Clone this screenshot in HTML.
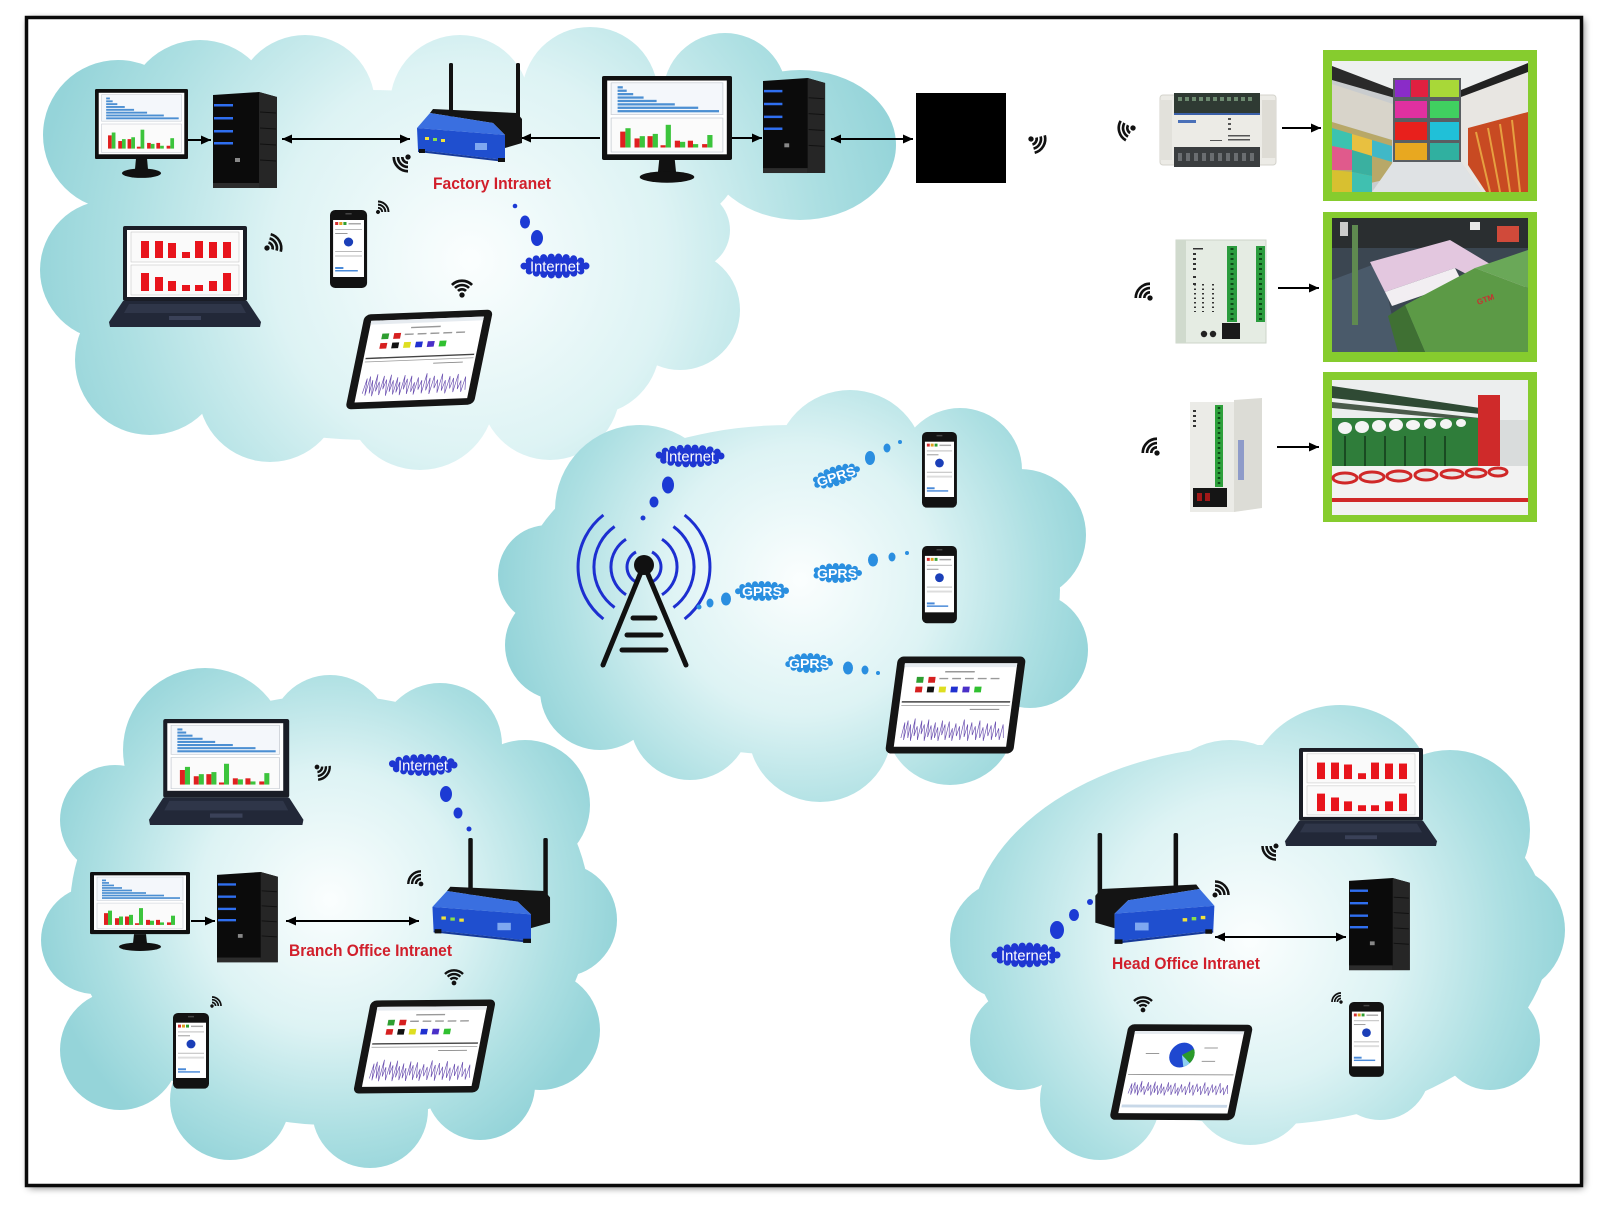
<!DOCTYPE html>
<html><head><meta charset="utf-8"><style>
html,body{margin:0;padding:0;background:#fff;}
svg{display:block;}
</style></head><body>
<svg width="1600" height="1211" viewBox="0 0 1600 1211" xmlns="http://www.w3.org/2000/svg" font-family="'Liberation Sans', Arial, sans-serif">
<defs>
<radialGradient id="gF" gradientUnits="userSpaceOnUse" cx="470" cy="260" r="440">
<stop offset="0" stop-color="#fbfefe"/><stop offset="0.45" stop-color="#ddf3f4"/><stop offset="0.8" stop-color="#acdfe2"/><stop offset="1" stop-color="#95d4d9"/></radialGradient>
<radialGradient id="gM" gradientUnits="userSpaceOnUse" cx="800" cy="580" r="300">
<stop offset="0" stop-color="#fbfefe"/><stop offset="0.45" stop-color="#ddf3f4"/><stop offset="0.8" stop-color="#acdfe2"/><stop offset="1" stop-color="#95d4d9"/></radialGradient>
<radialGradient id="gB" gradientUnits="userSpaceOnUse" cx="330" cy="900" r="290">
<stop offset="0" stop-color="#fbfefe"/><stop offset="0.45" stop-color="#ddf3f4"/><stop offset="0.8" stop-color="#acdfe2"/><stop offset="1" stop-color="#95d4d9"/></radialGradient>
<radialGradient id="gH" gradientUnits="userSpaceOnUse" cx="1250" cy="940" r="320">
<stop offset="0" stop-color="#fbfefe"/><stop offset="0.45" stop-color="#ddf3f4"/><stop offset="0.8" stop-color="#acdfe2"/><stop offset="1" stop-color="#95d4d9"/></radialGradient>
<filter id="blur" x="-5%" y="-5%" width="110%" height="110%"><feGaussianBlur stdDeviation="4"/></filter>
<marker id="ah" viewBox="0 0 10 10" refX="10" refY="5" markerWidth="10" markerHeight="10" markerUnits="userSpaceOnUse" orient="auto-start-reverse"><path d="M0 0.5 L10 5 L0 9.5z" fill="#000"/></marker>

<g id="mscr">
<rect width="92" height="65" fill="#fff"/>
<rect x="3" y="2" width="86" height="28" fill="#f4f7fb" stroke="#c5cad2" stroke-width="0.6"/>
<g fill="#4c8fd2">
<rect x="8" y="5" width="4" height="2"/><rect x="8" y="8" width="7" height="2"/><rect x="8" y="11" width="12" height="2"/><rect x="8" y="14" width="20" height="2"/><rect x="8" y="17" width="30" height="2"/><rect x="8" y="20" width="44" height="2"/><rect x="8" y="23" width="62" height="2"/><rect x="8" y="26" width="78" height="2"/>
</g>
<rect x="3" y="33" width="86" height="30" fill="#fbfbfb" stroke="#c5cad2" stroke-width="0.6"/>
<g fill="#e02020">
<rect x="10" y="45" width="4" height="14"/><rect x="21" y="51" width="4" height="8"/><rect x="31" y="49" width="4" height="10"/><rect x="41" y="57" width="4" height="2"/><rect x="52" y="53" width="4" height="6"/><rect x="62" y="53" width="4" height="6"/><rect x="73" y="56" width="4" height="3"/>
</g>
<g fill="#3cc43c">
<rect x="14" y="42" width="4" height="17"/><rect x="25" y="49" width="4" height="10"/><rect x="35" y="47" width="4" height="12"/><rect x="45" y="39" width="4" height="20"/><rect x="56" y="54" width="4" height="5"/><rect x="66" y="56" width="4" height="3"/><rect x="77" y="48" width="4" height="11"/>
</g>
</g>

<g id="mon">
<rect x="0" y="0" width="100" height="74" rx="1.5" fill="#101010"/>
<use href="#mscr" transform="translate(4,4)"/>
<path d="M44 74 H56 L57 85 H43Z" fill="#111"/>
<ellipse cx="50" cy="89" rx="21" ry="5" fill="#111"/>
</g>

<g id="rscr">
<rect width="116" height="67" fill="#fff"/>
<rect x="4" y="2" width="108" height="30" fill="#fafafa" stroke="#c8c8c8" stroke-width="0.6"/>
<rect x="4" y="35" width="108" height="30" fill="#fafafa" stroke="#c8c8c8" stroke-width="0.6"/>
<g fill="#e8141c">
<rect x="14" y="11" width="8" height="17"/><rect x="28" y="11" width="8" height="17"/><rect x="41" y="13" width="8" height="15"/><rect x="55" y="22" width="8" height="6"/><rect x="68" y="11" width="8" height="17"/><rect x="82" y="12" width="8" height="16"/><rect x="96" y="12" width="8" height="16"/>
<rect x="14" y="43" width="8" height="18"/><rect x="28" y="47" width="8" height="14"/><rect x="41" y="51" width="8" height="10"/><rect x="55" y="55" width="8" height="6"/><rect x="68" y="55" width="8" height="6"/><rect x="82" y="51" width="8" height="10"/><rect x="96" y="43" width="8" height="18"/>
</g>
</g>

<g id="lap">
<rect x="14" y="0" width="124" height="75" rx="2" fill="#1a1d26"/>
<path d="M14 75 H138 L152 96 L151 101 H1 L0 96Z" fill="#222838"/>
<path d="M20 78 H132 L137 87 H15Z" fill="#2f3649"/>
<rect x="60" y="90" width="32" height="4" fill="#3a4158"/>
</g>

<g id="tow">
<path d="M0 3 L46 0 L64 5 L64 96 L0 96Z" fill="#0b0b0b"/>
<path d="M46 0 L64 5 L64 96 L46 96Z" fill="#262626"/>
<g stroke="#111" stroke-width="1"><line x1="47" y1="20" x2="63" y2="21"/><line x1="47" y1="36" x2="63" y2="37"/><line x1="47" y1="52" x2="63" y2="53"/><line x1="47" y1="68" x2="63" y2="69"/></g>
<g fill="#2f6ff0"><rect x="1" y="12" width="19" height="2.5"/><rect x="1" y="25" width="19" height="2.5"/><rect x="1" y="38" width="19" height="2.5"/><rect x="1" y="50" width="19" height="2.5"/></g>
<rect x="22" y="66" width="5" height="4" fill="#888"/>
<rect x="0" y="91" width="46" height="5" fill="#2c2c2c"/>
</g>

<g id="rt">
<rect x="44" y="0" width="4" height="54" rx="1.5" fill="#111"/>
<rect x="111" y="0" width="4" height="62" rx="1.5" fill="#111"/>
<path d="M28 46 L112 50 L117 56 L117 80 L100 85 L100 72 L88 60 L25 50Z" fill="#141414"/>
<path d="M25 50 L88 60 L100 72 L12 65Z" fill="#3a6fe0"/>
<path d="M12 65 L100 72 L100 97 L13 87Z" fill="#1f4fcf"/>
<path d="M13 87 L100 97 L100 99 L13 89Z" fill="#173a99"/>
<rect x="20" y="74" width="4" height="3" fill="#f2e23a"/><rect x="28" y="75" width="4" height="3" fill="#8ae04a"/><rect x="36" y="76" width="4" height="3" fill="#f2e23a"/>
<rect x="70" y="80" width="12" height="7" fill="#7fa8f0"/>
<rect x="14" y="86" width="6" height="4" fill="#111"/><rect x="93" y="95" width="7" height="4" fill="#111"/>
</g>

<g id="ph">
<rect x="0" y="0" width="36" height="78" rx="5" fill="#121212"/>
<rect x="3" y="10" width="30" height="57" fill="#fff"/>
<rect x="5" y="12" width="3" height="3" fill="#d63030"/><rect x="9" y="12" width="3" height="3" fill="#e0a020"/><rect x="13" y="12" width="3" height="3" fill="#30a030"/><rect x="18" y="13" width="12" height="1.5" fill="#aaa"/>
<rect x="5" y="19" width="26" height="1" fill="#bbb"/>
<rect x="5" y="23" width="12" height="1" fill="#999"/>
<circle cx="18" cy="32" r="4.5" fill="#1b3fb8"/>
<rect x="5" y="41" width="26" height="1" fill="#bbb"/>
<rect x="5" y="45" width="26" height="2" fill="#ddd"/>
<rect x="5" y="57" width="8" height="2" fill="#4a8ad8"/>
<rect x="5" y="60" width="22" height="1.5" fill="#4a8ad8"/>
<rect x="15" y="3" width="6" height="1.5" fill="#444"/>
</g>

<path id="noise" fill="none" stroke="#6a4fb0" stroke-width="0.7" d="M14 84 L16 68 L17 86 L19 66 L21 84 L22 70 L24 87 L26 64 L27 82 L29 72 L31 86 L33 66 L34 80 L36 70 L38 87 L40 65 L41 83 L43 71 L45 86 L47 68 L48 84 L50 73 L52 87 L54 66 L55 81 L57 70 L59 86 L61 67 L63 84 L65 74 L66 87 L68 69 L70 82 L72 72 L74 86 L76 65 L78 83 L80 70 L82 87 L84 68 L86 81 L88 72 L90 86 L92 66 L94 84 L96 73 L98 87 L100 69 L102 82 L104 71 L106 86 L108 67 L110 83 L112 74 L114 86 L116 70 L118 84"/>

<g id="tab">
<rect width="130" height="100" rx="6" fill="#151515"/>
<rect x="8" y="7" width="114" height="86" fill="#fff"/>
<rect x="8" y="7" width="114" height="4" fill="#e6ebf0"/>
<rect x="50" y="15" width="30" height="1.5" fill="#999"/>
<rect x="22" y="21" width="7" height="6" fill="#2e9e30"/><rect x="34" y="21" width="7" height="6" fill="#d62020"/>
<g fill="#999"><rect x="45" y="22" width="9" height="1.5"/><rect x="58" y="22" width="9" height="1.5"/><rect x="71" y="22" width="9" height="1.5"/><rect x="84" y="22" width="9" height="1.5"/><rect x="97" y="22" width="9" height="1.5"/></g>
<rect x="22" y="31" width="7" height="6" fill="#d62020"/><rect x="34" y="31" width="7" height="6" fill="#111"/><rect x="46" y="31" width="7" height="6" fill="#dede20"/><rect x="58" y="31" width="7" height="6" fill="#2030d0"/><rect x="70" y="31" width="7" height="6" fill="#4a30c8"/><rect x="82" y="31" width="7" height="6" fill="#30c030"/>
<rect x="10" y="46" width="110" height="1.5" fill="#444"/>
<rect x="10" y="50" width="110" height="0.8" fill="#999"/>
<rect x="80" y="54" width="30" height="1" fill="#888"/>
<use href="#noise"/>
</g>

<g id="tabh">
<rect width="130" height="100" rx="6" fill="#151515"/>
<rect x="8" y="7" width="114" height="86" fill="#fff"/>
<rect x="8" y="7" width="114" height="3" fill="#e6ebf0"/>
<circle cx="62" cy="32" r="13" fill="#1f48d0"/>
<path d="M62 32 L73.3 25.5 A13 13 0 0 1 71.9 40.4Z" fill="#2a9a2a"/>
<path d="M62 32 L71.9 40.4 A13 13 0 0 1 66 44.4Z" fill="#8fd0f0"/>
<rect x="24" y="30" width="14" height="1" fill="#999"/><rect x="84" y="24" width="14" height="1" fill="#999"/><rect x="84" y="38" width="14" height="1" fill="#999"/>
<rect x="10" y="52" width="110" height="1" fill="#999"/>
<use href="#noise" transform="translate(0,17) scale(1,0.66)"/>
<rect x="10" y="84" width="110" height="3" fill="#c8d8e8"/>
</g>

<g id="wf" fill="none" stroke="#111" stroke-width="2.8">
<circle cx="0" cy="0" r="2.8" fill="#111" stroke="none"/>
<path d="M4.24 -4.24A6 6 0 0 1 4.24 4.24"/>
<path d="M7.42 -7.42A10.5 10.5 0 0 1 7.42 7.42"/>
<path d="M10.6 -10.6A15 15 0 0 1 10.6 10.6"/>
</g>
</defs>

<!-- frame -->
<rect x="28.5" y="19.5" width="1555" height="1168" fill="#000" opacity="0.55" filter="url(#blur)"/>
<rect x="26.5" y="17.5" width="1555" height="1168" fill="#fff" stroke="#0a0a0a" stroke-width="3.5"/>

<!-- clouds -->
<g fill="url(#gF)">
<ellipse cx="370" cy="265" rx="290" ry="175"/>
<ellipse cx="650" cy="160" rx="90" ry="70"/>
<circle cx="118" cy="135" r="75"/>
<circle cx="200" cy="115" r="75"/>
<circle cx="305" cy="105" r="70"/>
<circle cx="460" cy="105" r="70"/>
<circle cx="590" cy="95" r="68"/>
<circle cx="725" cy="95" r="62"/>
<ellipse cx="800" cy="145" rx="96" ry="75"/>
<circle cx="690" cy="230" r="40"/>
<circle cx="680" cy="310" r="60"/>
<circle cx="590" cy="345" r="70"/>
<circle cx="550" cy="390" r="70"/>
<circle cx="420" cy="395" r="75"/>
<circle cx="270" cy="390" r="72"/>
<circle cx="150" cy="360" r="75"/>
<circle cx="110" cy="270" r="70"/>
</g>
<g fill="url(#gM)">
<ellipse cx="790" cy="590" rx="270" ry="165"/>
<circle cx="640" cy="510" r="85"/>
<circle cx="740" cy="480" r="45"/>
<circle cx="850" cy="465" r="75"/>
<circle cx="960" cy="470" r="62"/>
<circle cx="1020" cy="535" r="66"/>
<circle cx="1030" cy="650" r="58"/>
<circle cx="950" cy="720" r="65"/>
<circle cx="820" cy="730" r="72"/>
<circle cx="690" cy="720" r="60"/>
<circle cx="600" cy="690" r="60"/>
<circle cx="560" cy="645" r="55"/>
<circle cx="548" cy="575" r="50"/>
</g>
<g fill="url(#gB)">
<ellipse cx="330" cy="910" rx="260" ry="215"/>
<circle cx="205" cy="750" r="82"/>
<circle cx="330" cy="735" r="60"/>
<circle cx="440" cy="745" r="62"/>
<circle cx="525" cy="805" r="65"/>
<circle cx="560" cy="920" r="57"/>
<circle cx="540" cy="1030" r="60"/>
<circle cx="115" cy="820" r="55"/>
<circle cx="95" cy="940" r="54"/>
<circle cx="120" cy="1050" r="60"/>
<circle cx="230" cy="1100" r="60"/>
<circle cx="370" cy="1110" r="58"/>
<circle cx="480" cy="1085" r="55"/>
</g>
<g fill="url(#gH)">
<ellipse cx="1260" cy="935" rx="290" ry="190"/>
<circle cx="1340" cy="800" r="95"/>
<circle cx="1230" cy="820" r="80"/>
<circle cx="1450" cy="830" r="80"/>
<circle cx="1500" cy="930" r="65"/>
<circle cx="1490" cy="1040" r="50"/>
<circle cx="1100" cy="860" r="70"/>
<circle cx="1010" cy="940" r="60"/>
<circle cx="1020" cy="1040" r="50"/>
<circle cx="1100" cy="1100" r="60"/>
<circle cx="1250" cy="1085" r="60"/>
<circle cx="1380" cy="1070" r="50"/>
</g>

<!-- ===== FACTORY ===== -->
<g stroke="#000" stroke-width="2">
<line x1="188" y1="140" x2="211" y2="140" marker-end="url(#ah)"/>
<line x1="282" y1="139" x2="410" y2="139" marker-start="url(#ah)" marker-end="url(#ah)"/>
<line x1="600" y1="138" x2="521" y2="138" marker-end="url(#ah)"/>
<line x1="732" y1="138" x2="762" y2="138" marker-end="url(#ah)"/>
<line x1="831" y1="139" x2="913" y2="139" marker-start="url(#ah)" marker-end="url(#ah)"/>
</g>
<use href="#mon" transform="translate(95,89) scale(0.93,0.946)"/>
<use href="#tow" transform="translate(213,92)"/>
<use href="#rt" transform="translate(405,63)"/>
<use href="#mon" transform="translate(602,76) scale(1.3,1.135)"/>
<use href="#tow" transform="translate(763,78) scale(0.97,0.99)"/>
<rect x="916" y="93" width="90" height="90" fill="#000"/>
<text x="433" y="189" font-size="16.5" font-weight="bold" fill="#d11f2b" textLength="118" lengthAdjust="spacingAndGlyphs">Factory Intranet</text>
<use href="#lap" transform="translate(109,226)"/>
<use href="#rscr" transform="translate(127,230)"/>
<use href="#ph" transform="translate(330,210) scale(1.03,1)"/>
<use href="#tab" transform="matrix(0.988,-0.0385,-0.195,0.95,364.75,314.5)"/>
<g fill="#1c3ad4"><circle cx="515" cy="206" r="2.3"/><ellipse cx="525" cy="222" rx="5" ry="6.5"/><ellipse cx="537" cy="238" rx="6" ry="8"/></g>
<ellipse cx="555" cy="266" rx="31" ry="9" fill="#1e36d2" stroke="#1e36d2" stroke-width="7" stroke-dasharray="0 7.5" stroke-linecap="round"/>
<text x="555" y="271.5" font-size="15" fill="#fff" text-anchor="middle" textLength="50" lengthAdjust="spacingAndGlyphs">Internet</text>
<use href="#wf" transform="translate(408,157) rotate(135) scale(0.95)"/>
<use href="#wf" transform="translate(267,248) rotate(-30) scale(0.95)"/>
<use href="#wf" transform="translate(378,212) rotate(-45) scale(0.7)"/>
<use href="#wf" transform="translate(462,295) rotate(-90) scale(0.95)"/>
<use href="#wf" transform="translate(1031,139) rotate(30) scale(0.95)"/>

<!-- ===== PLCs ===== -->
<use href="#wf" transform="translate(1133,128) rotate(165) scale(0.95)"/>
<use href="#wf" transform="translate(1150,298) rotate(-135) scale(0.95)"/>
<use href="#wf" transform="translate(1157,453) rotate(-135) scale(0.95)"/>
<!-- PLC1 -->
<rect x="1160" y="95" width="116" height="70" rx="3" fill="#ecebe6" stroke="#d4d3cc"/>
<rect x="1160" y="100" width="12" height="60" fill="#e2e1db"/>
<rect x="1262" y="100" width="14" height="58" fill="#dedcd5"/>
<rect x="1174" y="93" width="86" height="20" fill="#2f3a33"/>
<g fill="#6d8a70"><rect x="1178" y="97" width="4" height="4"/><rect x="1185" y="97" width="4" height="4"/><rect x="1192" y="97" width="4" height="4"/><rect x="1199" y="97" width="4" height="4"/><rect x="1206" y="97" width="4" height="4"/><rect x="1213" y="97" width="4" height="4"/><rect x="1220" y="97" width="4" height="4"/><rect x="1227" y="97" width="4" height="4"/><rect x="1234" y="97" width="4" height="4"/><rect x="1241" y="97" width="4" height="4"/><rect x="1248" y="97" width="4" height="4"/></g>
<rect x="1174" y="113" width="86" height="2" fill="#3a5fa8"/>
<rect x="1178" y="120" width="18" height="3" fill="#4a70b8"/>
<g fill="#555"><rect x="1228" y="118" width="3" height="2"/><rect x="1228" y="123" width="3" height="2"/><rect x="1228" y="128" width="3" height="2"/><rect x="1228" y="135" width="22" height="1.5"/><rect x="1228" y="139" width="22" height="1.5"/><rect x="1210" y="140" width="12" height="1"/></g>
<rect x="1174" y="147" width="86" height="20" fill="#3a3d3f"/>
<g fill="#6a6d70"><rect x="1178" y="153" width="4" height="8"/><rect x="1186" y="153" width="4" height="8"/><rect x="1194" y="153" width="4" height="8"/><rect x="1202" y="153" width="4" height="8"/><rect x="1210" y="153" width="4" height="8"/><rect x="1218" y="153" width="4" height="8"/><rect x="1226" y="153" width="4" height="8"/><rect x="1234" y="153" width="4" height="8"/><rect x="1242" y="153" width="4" height="8"/><rect x="1250" y="153" width="4" height="8"/></g>
<!-- PLC2 -->
<rect x="1176" y="240" width="90" height="103" fill="#e5ece3" stroke="#cdd5ca"/>
<rect x="1176" y="240" width="10" height="103" fill="#d0dacd"/>
<rect x="1227" y="246" width="10" height="76" fill="#2b9c3e"/>
<rect x="1256" y="246" width="9" height="76" fill="#2b9c3e"/>
<line x1="1232" y1="248" x2="1232" y2="320" stroke="#0e4a18" stroke-width="3" stroke-dasharray="2 3"/>
<line x1="1260.5" y1="248" x2="1260.5" y2="320" stroke="#0e4a18" stroke-width="3" stroke-dasharray="2 3"/>
<g fill="#333"><rect x="1193" y="248" width="10" height="1.5"/><rect x="1193" y="253" width="3" height="2"/><rect x="1193" y="258" width="3" height="2"/><rect x="1193" y="263" width="3" height="2"/><rect x="1193" y="268" width="3" height="2"/><rect x="1193" y="276" width="3" height="2"/><rect x="1193" y="283" width="3" height="2"/></g>
<line x1="1195" y1="284" x2="1195" y2="312" stroke="#333" stroke-width="2" stroke-dasharray="1.5 3"/>
<line x1="1203" y1="284" x2="1203" y2="312" stroke="#333" stroke-width="2" stroke-dasharray="1.5 3"/>
<line x1="1213" y1="284" x2="1213" y2="312" stroke="#333" stroke-width="2" stroke-dasharray="1.5 3"/>
<rect x="1222" y="323" width="18" height="16" fill="#1a1a1a"/>
<circle cx="1204" cy="334" r="3.2" fill="#222"/><circle cx="1213" cy="334" r="3.2" fill="#222"/>
<!-- PLC3 -->
<rect x="1190" y="402" width="44" height="110" fill="#ebebe7"/>
<path d="M1234 400 L1262 398 L1262 508 L1234 512Z" fill="#dcdcd6"/>
<rect x="1215" y="405" width="8" height="82" fill="#2ea03c"/>
<line x1="1219" y1="407" x2="1219" y2="485" stroke="#0e4a18" stroke-width="2.5" stroke-dasharray="2 3"/>
<g fill="#333"><rect x="1193" y="410" width="3" height="2"/><rect x="1193" y="415" width="3" height="2"/><rect x="1193" y="420" width="3" height="2"/><rect x="1193" y="425" width="3" height="2"/></g>
<rect x="1238" y="440" width="6" height="40" fill="#5a70c0" opacity="0.6"/>
<rect x="1193" y="488" width="34" height="19" fill="#151515"/>
<rect x="1197" y="493" width="5" height="8" fill="#a01818"/><rect x="1205" y="493" width="5" height="8" fill="#a01818"/>
<!-- arrows right -->
<g stroke="#000" stroke-width="2">
<line x1="1282" y1="128" x2="1321" y2="128" marker-end="url(#ah)"/>
<line x1="1278" y1="288" x2="1319" y2="288" marker-end="url(#ah)"/>
<line x1="1277" y1="447" x2="1319" y2="447" marker-end="url(#ah)"/>
</g>
<!-- photo1 -->
<rect x="1323" y="50" width="214" height="151" fill="#86cc2e"/>
<rect x="1332" y="61" width="196" height="131" fill="#c9ccce"/>
<path d="M1332 61 H1528 V72 L1461 95 H1395 L1332 72Z" fill="#eef0f0"/>
<path d="M1332 66 L1395 90 L1395 98 L1332 80Z" fill="#2a2a2a"/>
<path d="M1332 84 L1393 104 L1393 140 L1332 122Z" fill="#d8d4ca"/>
<path d="M1332 122 L1392 140 L1392 178 L1332 192Z" fill="#b8a868"/>
<path d="M1332 128 L1352 134 L1352 150 L1332 146Z" fill="#3cc3b0"/>
<path d="M1352 134 L1372 140 L1372 156 L1352 150Z" fill="#e8c040"/>
<path d="M1372 140 L1392 146 L1392 162 L1372 156Z" fill="#40b8c8"/>
<path d="M1332 146 L1352 150 L1352 170 L1332 170Z" fill="#e05a8c"/>
<path d="M1352 150 L1372 156 L1372 176 L1352 172Z" fill="#3ab0a0"/>
<path d="M1332 170 L1352 172 L1352 192 L1332 192Z" fill="#d8c030"/>
<path d="M1352 172 L1372 176 L1372 192 L1352 192Z" fill="#40c0b0"/>
<rect x="1393" y="78" width="68" height="84" fill="#5a5e62"/>
<rect x="1395" y="80" width="15" height="17" fill="#8a2cc8"/><rect x="1411" y="80" width="17" height="17" fill="#e02040"/><rect x="1430" y="80" width="29" height="17" fill="#a8d838"/>
<rect x="1395" y="101" width="32" height="17" fill="#e030a0"/><rect x="1430" y="101" width="29" height="17" fill="#40d060"/>
<rect x="1395" y="122" width="32" height="18" fill="#e8201c"/><rect x="1430" y="122" width="29" height="18" fill="#20c0d8"/>
<rect x="1395" y="143" width="32" height="17" fill="#e8a820"/><rect x="1430" y="143" width="29" height="17" fill="#30b0a0"/>
<path d="M1393 162 H1461 L1482 192 H1372Z" fill="#dfe2e4"/>
<path d="M1461 95 L1528 70 V192 H1482 L1461 162Z" fill="#e8e6e2"/>
<path d="M1461 90 L1528 63 V72 L1461 97Z" fill="#222"/>
<path d="M1468 128 L1528 112 V192 H1486 L1468 165Z" fill="#c84a22"/>
<g stroke="#e6a040" stroke-width="2"><line x1="1476" y1="132" x2="1490" y2="192"/><line x1="1488" y1="128" x2="1500" y2="192"/><line x1="1500" y1="124" x2="1510" y2="192"/><line x1="1512" y1="120" x2="1520" y2="192"/></g>
<!-- photo2 -->
<rect x="1323" y="212" width="214" height="150" fill="#86cc2e"/>
<rect x="1332" y="218" width="196" height="134" fill="#3b4651"/>
<rect x="1332" y="218" width="196" height="30" fill="#2a2e30"/>
<rect x="1497" y="226" width="22" height="16" fill="#d04a3a"/>
<rect x="1470" y="222" width="10" height="8" fill="#e8e8e8"/>
<rect x="1340" y="222" width="8" height="14" fill="#cccccc"/>
<path d="M1332 280 L1380 262 L1400 352 L1332 352Z" fill="#4a5a6a"/>
<rect x="1352" y="225" width="6" height="100" fill="#5f8a50"/>
<path d="M1370 262 L1450 240 L1525 285 L1525 305 L1455 268 L1385 292Z" fill="#e3c7df"/>
<path d="M1385 292 L1455 268 L1462 282 L1392 306Z" fill="#f2eef2"/>
<path d="M1405 305 L1475 268 L1528 288 L1528 352 L1425 352Z" fill="#5c9a46"/>
<path d="M1405 305 L1425 352 L1398 352 L1388 316Z" fill="#3f7033"/>
<path d="M1475 268 L1528 250 L1528 288Z" fill="#6aa858"/>
<text x="1478" y="305" font-size="8" font-weight="bold" fill="#c83030" transform="rotate(-20 1478 305)">GTM</text>
<!-- photo3 -->
<rect x="1323" y="372" width="214" height="150" fill="#86cc2e"/>
<rect x="1332" y="380" width="196" height="135" fill="#d9dcdc"/>
<rect x="1332" y="380" width="196" height="40" fill="#eceeee"/>
<path d="M1332 386 L1480 408 L1480 414 L1332 398Z" fill="#2f4a34"/>
<path d="M1332 402 L1480 418 L1480 421 L1332 408Z" fill="#4a5a4a"/>
<rect x="1332" y="418" width="160" height="52" fill="#2f7d3a"/>
<g fill="#f4f4f4"><ellipse cx="1345" cy="428" rx="7" ry="6"/><ellipse cx="1362" cy="427" rx="7" ry="6"/><ellipse cx="1379" cy="426" rx="7" ry="6"/><ellipse cx="1396" cy="425" rx="7" ry="6"/><ellipse cx="1413" cy="425" rx="7" ry="5"/><ellipse cx="1430" cy="424" rx="6" ry="5"/><ellipse cx="1446" cy="424" rx="6" ry="5"/><ellipse cx="1461" cy="423" rx="5" ry="4"/></g>
<g stroke="#1a4a22" stroke-width="2"><line x1="1345" y1="436" x2="1345" y2="466"/><line x1="1365" y1="436" x2="1365" y2="466"/><line x1="1385" y1="436" x2="1385" y2="466"/><line x1="1405" y1="436" x2="1405" y2="466"/><line x1="1425" y1="436" x2="1425" y2="466"/><line x1="1445" y1="436" x2="1445" y2="466"/></g>
<rect x="1478" y="395" width="22" height="72" fill="#cf2a2a"/>
<rect x="1332" y="466" width="196" height="49" fill="#f2f2f2"/>
<g fill="#e8e8e8" stroke="#d02828" stroke-width="3"><ellipse cx="1345" cy="478" rx="12" ry="5"/><ellipse cx="1372" cy="477" rx="12" ry="5"/><ellipse cx="1399" cy="476" rx="12" ry="5"/><ellipse cx="1426" cy="475" rx="11" ry="5"/><ellipse cx="1452" cy="474" rx="11" ry="4"/><ellipse cx="1476" cy="473" rx="10" ry="4"/><ellipse cx="1498" cy="472" rx="9" ry="4"/></g>
<g fill="#d02828"><rect x="1332" y="498" width="196" height="4"/></g>

<!-- ===== MIDDLE (GPRS) ===== -->
<g fill="none" stroke="#1d2fd0" stroke-width="3">
<path d="M636 552 A17 17 0 0 0 636 582"/><path d="M652 552 A17 17 0 0 1 652 582"/>
<path d="M626 539.3 A33 33 0 0 0 626 594.7"/><path d="M662 539.3 A33 33 0 0 1 662 594.7"/>
<path d="M614.6 526.5 A50 50 0 0 0 614.6 607.5"/><path d="M673.4 526.5 A50 50 0 0 1 673.4 607.5"/>
<path d="M603.4 515 A66 66 0 0 0 603.4 619"/><path d="M684.6 515 A66 66 0 0 1 684.6 619"/>
</g>
<g stroke="#111" stroke-width="5" stroke-linecap="round">
<line x1="641" y1="572" x2="603" y2="665"/><line x1="647" y1="572" x2="686" y2="665"/>
<line x1="633" y1="618" x2="655" y2="618"/><line x1="627" y1="635" x2="661" y2="635"/><line x1="622" y1="650" x2="666" y2="650"/>
</g>
<circle cx="644" cy="565" r="10" fill="#111"/>
<g fill="#1c3ad4"><ellipse cx="668" cy="485" rx="6" ry="8.5"/><ellipse cx="654" cy="502" rx="4.5" ry="5.5"/><circle cx="643" cy="518" r="2.5"/></g>
<ellipse cx="690" cy="456" rx="31" ry="8" fill="#1e36d2" stroke="#1e36d2" stroke-width="7" stroke-dasharray="0 7.5" stroke-linecap="round"/>
<text x="690" y="461.5" font-size="15" fill="#fff" text-anchor="middle" textLength="50" lengthAdjust="spacingAndGlyphs">Internet</text>
<g fill="#2a8ee0">
<ellipse cx="726" cy="599" rx="5" ry="6.5"/><ellipse cx="710" cy="603" rx="3.5" ry="4.5"/><circle cx="699" cy="607" r="2.5"/>
<ellipse cx="873" cy="560" rx="5" ry="6.5"/><ellipse cx="892" cy="557" rx="3.5" ry="4.5"/><circle cx="907" cy="553" r="2"/>
<ellipse cx="870" cy="458" rx="5" ry="7"/><ellipse cx="887" cy="448" rx="3.5" ry="4.5"/><circle cx="900" cy="442" r="2"/>
<ellipse cx="848" cy="668" rx="5" ry="6.5"/><ellipse cx="865" cy="670" rx="3.5" ry="4.5"/><circle cx="878" cy="673" r="2"/>
</g>
<g fill="#2a8fe0" stroke="#2a8fe0" stroke-width="6" stroke-dasharray="0 6.5" stroke-linecap="round">
<ellipse cx="762" cy="591" rx="24" ry="7"/>
<ellipse cx="837" cy="573" rx="22" ry="7"/>
<ellipse cx="836" cy="476" rx="22" ry="7" transform="rotate(-18 836 476)"/>
<ellipse cx="809" cy="663" rx="21" ry="7"/>
</g>
<g fill="#fff" font-size="13" font-weight="bold" text-anchor="middle">
<text x="762" y="596" textLength="40" lengthAdjust="spacingAndGlyphs">GPRS</text>
<text x="837" y="578" textLength="40" lengthAdjust="spacingAndGlyphs">GPRS</text>
<text x="836" y="481" textLength="40" lengthAdjust="spacingAndGlyphs" transform="rotate(-18 836 476)">GPRS</text>
<text x="809" y="668" textLength="40" lengthAdjust="spacingAndGlyphs">GPRS</text>
</g>
<use href="#ph" transform="translate(922,432) scale(0.97,0.97)"/>
<use href="#ph" transform="translate(922,546) scale(0.97,0.99)"/>
<use href="#tab" transform="matrix(0.985,0,-0.13,0.97,898,656.5)"/>

<!-- ===== BRANCH ===== -->
<g stroke="#000" stroke-width="2">
<line x1="191" y1="921" x2="215" y2="921" marker-end="url(#ah)"/>
<line x1="286" y1="921" x2="419" y2="921" marker-start="url(#ah)" marker-end="url(#ah)"/>
</g>
<use href="#lap" transform="translate(149,719) scale(1.016,1.05)"/>
<use href="#mscr" transform="translate(167.3,723.2) scale(1.26,1.04)"/>
<use href="#mon" transform="translate(90,872) scale(1.0,0.84)"/>
<use href="#tow" transform="translate(217,872) scale(0.95,0.94)"/>
<use href="#rt" transform="translate(419,838) scale(1.12,1.06)"/>
<g fill="#1c3ad4"><ellipse cx="446" cy="794" rx="6" ry="8"/><ellipse cx="458" cy="813" rx="4.5" ry="5.5"/><circle cx="469" cy="829" r="2.5"/></g>
<ellipse cx="423" cy="765" rx="31" ry="7.5" fill="#1e36d2" stroke="#1e36d2" stroke-width="7" stroke-dasharray="0 7.5" stroke-linecap="round"/>
<text x="423" y="770.5" font-size="15" fill="#fff" text-anchor="middle" textLength="50" lengthAdjust="spacingAndGlyphs">Internet</text>
<text x="289" y="956" font-size="16.5" font-weight="bold" fill="#d11f2b" textLength="163" lengthAdjust="spacingAndGlyphs">Branch Office Intranet</text>
<use href="#ph" transform="translate(173,1013) scale(1,0.97)"/>
<use href="#tab" transform="matrix(0.9615,-0.0077,-0.18,0.93,371,1000.5)"/>
<use href="#wf" transform="translate(317,767) rotate(40) scale(0.85)"/>
<use href="#wf" transform="translate(421,884) rotate(-135) scale(0.85)"/>
<use href="#wf" transform="translate(454,983) rotate(-90) scale(0.85)"/>
<use href="#wf" transform="translate(212,1006) rotate(-45) scale(0.6)"/>

<!-- ===== HEAD ===== -->
<g stroke="#000" stroke-width="2">
<line x1="1215" y1="937" x2="1346" y2="937" marker-start="url(#ah)" marker-end="url(#ah)"/>
</g>
<use href="#lap" transform="translate(1285,748) scale(1,0.97)"/>
<use href="#rscr" transform="translate(1303,751.9) scale(1,0.97)"/>
<use href="#rt" transform="translate(1228,833) scale(-1.134,1.12)"/>
<use href="#tow" transform="translate(1349,878) scale(0.95,0.96)"/>
<g fill="#1c3ad4"><ellipse cx="1057" cy="930" rx="7" ry="9"/><ellipse cx="1074" cy="915" rx="5" ry="6"/><circle cx="1090" cy="902" r="3"/></g>
<ellipse cx="1026" cy="955" rx="31" ry="9" fill="#1e36d2" stroke="#1e36d2" stroke-width="7" stroke-dasharray="0 7.5" stroke-linecap="round"/>
<text x="1026" y="960.5" font-size="15" fill="#fff" text-anchor="middle" textLength="50" lengthAdjust="spacingAndGlyphs">Internet</text>
<text x="1112" y="969" font-size="16.5" font-weight="bold" fill="#d11f2b" textLength="148" lengthAdjust="spacingAndGlyphs">Head Office Intranet</text>
<use href="#tabh" transform="matrix(0.958,0.0038,-0.195,0.955,1128.75,1024.25)"/>
<use href="#ph" transform="translate(1349,1002) scale(0.97,0.96)"/>
<use href="#wf" transform="translate(1276,846) rotate(135) scale(0.9)"/>
<use href="#wf" transform="translate(1215,895) rotate(-45) scale(0.9)"/>
<use href="#wf" transform="translate(1143,1010) rotate(-90) scale(0.85)"/>
<use href="#wf" transform="translate(1341,1002) rotate(-135) scale(0.6)"/>
</svg>
</body></html>
